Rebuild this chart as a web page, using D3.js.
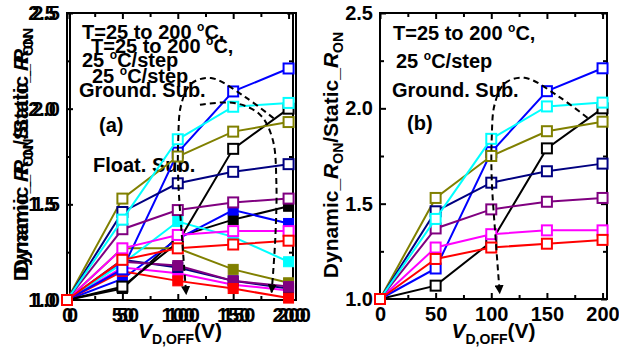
<!DOCTYPE html>
<html>
<head>
<meta charset="utf-8">
<script src="https://d3js.org/d3.v7.min.js"></script>
<style>
  body { margin: 0; background: #fff; }
  svg text { font-family: "Liberation Sans", Arial, sans-serif; font-weight: bold; fill: #000; }
</style>
</head>
<body>
<svg id="chart" width="619" height="354"></svg>
<script>
// x steps of the off-state drain bias (V)
var vOff = [0, 50, 100, 150, 200];
var xTicks = [0, 50, 100, 150, 200];
var xMinor = [25, 75, 125, 175];
var yTicks = [1.0, 1.5, 2.0, 2.5];
var yMinor = [1.25, 1.75, 2.25];

// one colour per temperature step (draw order)
var colors = ["#000000", "#0000ff", "#ff00ff", "#808000", "#000080", "#800080", "#00ffff", "#ff0000"];

// grounded substrate, open squares
var gndBlack   = [1.00, 1.07, 1.30, 1.79, 2.00];
var gndBlue    = [1.00, 1.16, 1.77, 2.09, 2.21];
var gndMagenta = [1.00, 1.27, 1.34, 1.36, 1.36];
var gndOlive   = [1.00, 1.53, 1.75, 1.88, 1.93];
var gndNavy    = [1.00, 1.46, 1.61, 1.67, 1.71];
var gndPurple  = [1.00, 1.37, 1.47, 1.51, 1.53];
var gndCyan    = [1.00, 1.42, 1.84, 2.01, 2.03];
var gndRed     = [1.00, 1.21, 1.27, 1.29, 1.31];

// floating substrate, filled squares
var fltBlack   = [1.00, 1.06, 1.33, 1.42, 1.49];
var fltBlue    = [1.00, 1.11, 1.32, 1.47, 1.40];
var fltMagenta = [1.00, 1.17, 1.14, 1.08, 1.05];
var fltOlive   = [1.00, 1.27, 1.27, 1.16, 1.09];
var fltNavy    = [1.00, 1.21, 1.17, 1.10, 1.06];
var fltPurple  = [1.00, 1.20, 1.18, 1.10, 1.07];
var fltCyan    = [1.00, 1.19, 1.41, 1.33, 1.20];
var fltRed     = [1.00, 1.15, 1.10, 1.06, 1.01];

// dashed guide arrows (data units)
var gndArrow = [[186.5, 1.95], [161, 2.06], [130, 2.16], [112, 2.13], [103, 2.02], [100.4, 1.84], [100.4, 1.63], [104, 1.31], [107.6, 1.03]];
var fltArrow = [[120, 2.02], [151, 2.03], [174, 1.97], [185.6, 1.84], [189, 1.61], [188, 1.32], [184.7, 1.04]];

var groundSeries = [gndBlack, gndBlue, gndMagenta, gndOlive, gndNavy, gndPurple, gndCyan, gndRed];
var floatSeries = [fltBlack, fltBlue, fltMagenta, fltOlive, fltNavy, fltPurple, fltCyan, fltRed];

var svg = d3.select("#chart");
svg.append("rect").attr("width", 619).attr("height", 354).attr("fill", "#fff");

svg.append("defs").append("marker")
  .attr("id", "arrow")
  .attr("viewBox", "0 0 10 10")
  .attr("refX", 9).attr("refY", 5)
  .attr("markerWidth", 9).attr("markerHeight", 9)
  .attr("markerUnits", "userSpaceOnUse")
  .attr("orient", "auto")
  .append("path").attr("d", "M0,0 L10,5 L0,10 z").attr("fill", "#000");

function scalesFor(box) {
  return {
    x: d3.scaleLinear().domain([0, 204]).range([box.left, box.right]),
    y: d3.scaleLinear().domain([1, 2.5]).range([box.bottom, box.top])
  };
}

function styleAxis(g) {
  g.select(".domain").remove();
  g.selectAll("line").attr("stroke", "#000").attr("stroke-width", 2);
  g.selectAll("text").attr("font-size", 20).attr("fill", "#000")
    .attr("font-family", "Liberation Sans, Arial, sans-serif").attr("font-weight", "bold");
}

function drawAxes(g, s, box) {
  g.append("g").attr("transform", "translate(0," + box.bottom + ")")
    .call(d3.axisBottom(s.x).tickValues(xTicks).tickSize(-6).tickPadding(8).tickFormat(d3.format("d"))).call(styleAxis);
  g.append("g").attr("transform", "translate(0," + box.bottom + ")")
    .call(d3.axisBottom(s.x).tickValues(xMinor).tickSize(-4).tickFormat("")).call(styleAxis);
  g.append("g").attr("transform", "translate(0," + box.top + ")")
    .call(d3.axisTop(s.x).tickValues(xTicks).tickSize(-6).tickFormat("")).call(styleAxis);
  g.append("g").attr("transform", "translate(0," + box.top + ")")
    .call(d3.axisTop(s.x).tickValues(xMinor).tickSize(-4).tickFormat("")).call(styleAxis);
  g.append("g").attr("transform", "translate(" + box.left + ",0)")
    .call(d3.axisLeft(s.y).tickValues(yTicks).tickSize(-6).tickPadding(7).tickFormat(d3.format(".1f"))).call(styleAxis);
  g.append("g").attr("transform", "translate(" + box.left + ",0)")
    .call(d3.axisLeft(s.y).tickValues(yMinor).tickSize(-4).tickFormat("")).call(styleAxis);
  g.append("g").attr("transform", "translate(" + box.right + ",0)")
    .call(d3.axisRight(s.y).tickValues(yTicks).tickSize(-6).tickFormat("")).call(styleAxis);
  g.append("g").attr("transform", "translate(" + box.right + ",0)")
    .call(d3.axisRight(s.y).tickValues(yMinor).tickSize(-4).tickFormat("")).call(styleAxis);
}

function drawFrame(g, box, dx) {
  g.append("rect")
    .attr("x", box.left + dx).attr("y", box.top)
    .attr("width", box.right - box.left).attr("height", box.bottom - box.top)
    .attr("fill", "none").attr("stroke", "#000").attr("stroke-width", 2);
}

function drawSeries(g, s, values, color, filled) {
  var pts = values.map(function(v, i) { return [vOff[i], v]; });
  var line = d3.line().x(function(d) { return s.x(d[0]); }).y(function(d) { return s.y(d[1]); });
  g.append("path").datum(pts).attr("d", line)
    .attr("fill", "none").attr("stroke", color).attr("stroke-width", 2);
  g.selectAll(null).data(pts).enter().append("rect")
    .attr("x", function(d) { return s.x(d[0]) - 5; })
    .attr("y", function(d) { return s.y(d[1]) - 5; })
    .attr("width", 10).attr("height", 10)
    .attr("fill", filled ? color : "#fff")
    .attr("stroke", color).attr("stroke-width", filled ? 1 : 2);
}

function drawArrow(g, s, pts) {
  var line = d3.line().curve(d3.curveCatmullRom)
    .x(function(d) { return s.x(d[0]); }).y(function(d) { return s.y(d[1]); });
  g.append("path").datum(pts).attr("d", line)
    .attr("fill", "none").attr("stroke", "#000").attr("stroke-width", 2)
    .attr("stroke-dasharray", "6,4").attr("marker-end", "url(#arrow)");
}

function tempText(g, x, y) {
  var t = g.append("text").attr("x", x).attr("y", y).attr("font-size", 20);
  t.append("tspan").text("T=25 to 200 ");
  t.append("tspan").attr("font-size", 12).attr("dy", -8).text("o");
  t.append("tspan").attr("dy", 8).text("C,");
}

function stepText(g, x, y) {
  var t = g.append("text").attr("x", x).attr("y", y).attr("font-size", 20);
  t.append("tspan").text("25 ");
  t.append("tspan").attr("font-size", 12).attr("dy", -8).text("o");
  t.append("tspan").attr("dy", 8).text("C/step");
}

function plainText(g, x, y, str) {
  g.append("text").attr("x", x).attr("y", y).attr("font-size", 20).text(str);
}

function yTitle(g, x, y) {
  var t = g.append("text").attr("transform", "translate(" + x + "," + y + ") rotate(-90)")
    .attr("text-anchor", "middle").attr("font-size", 21);
  t.append("tspan").text("Dynamic_");
  t.append("tspan").attr("font-style", "italic").text("R");
  t.append("tspan").attr("font-size", 14).attr("dy", 5).text("ON");
  t.append("tspan").attr("dy", -5).text("/Static_");
  t.append("tspan").attr("font-style", "italic").text("R");
  t.append("tspan").attr("font-size", 14).attr("dy", 5).text("ON");
}

function xTitle(g, x, y) {
  var t = g.append("text").attr("x", x).attr("y", y).attr("text-anchor", "middle").attr("font-size", 21);
  t.append("tspan").attr("font-style", "italic").text("V");
  t.append("tspan").attr("font-size", 14).attr("dy", 6).text("D,OFF");
  t.append("tspan").attr("dy", -6).text("(V)");
}

// ---------- panel (a): grounded + floating overlay ----------
var boxA = { left: 67, right: 293, top: 13, bottom: 300 };
var sA = scalesFor(boxA);
var gA = svg.append("g");

// ghost labels of the overlaid floating-substrate plot
gA.append("g").attr("transform", "translate(" + (boxA.left - 4) + ",0)")
  .call(d3.axisLeft(sA.y).tickValues(yTicks).tickSize(0).tickPadding(7).tickFormat(d3.format(".1f"))).call(styleAxis);
gA.append("g").attr("transform", "translate(5," + boxA.bottom + ")")
  .call(d3.axisBottom(sA.x).tickValues(xTicks).tickSize(0).tickPadding(8).tickFormat(d3.format("d"))).call(styleAxis);
yTitle(gA, 28, 151);
drawFrame(gA, boxA, 3);

drawAxes(gA, sA, boxA);
drawFrame(gA, boxA, 0);
yTitle(gA, 28, 158);
xTitle(gA, (boxA.left + boxA.right) / 2, 338);

tempText(gA, 82, 39);
tempText(gA, 91, 53);
stepText(gA, 82, 67);
stepText(gA, 92, 83);
plainText(gA, 79, 97, "Ground. Sub.");
plainText(gA, 99, 132, "(a)");
plainText(gA, 93, 172, "Float. Sub.");

floatSeries.forEach(function(v, i) { drawSeries(gA, sA, v, colors[i], true); });
groundSeries.forEach(function(v, i) { drawSeries(gA, sA, v, colors[i], false); });
drawArrow(gA, sA, gndArrow);
drawArrow(gA, sA, fltArrow);

// ---------- panel (b): grounded substrate ----------
var boxB = { left: 380, right: 607, top: 13, bottom: 299 };
var sB = scalesFor(boxB);
var gB = svg.append("g");

drawAxes(gB, sB, boxB);
drawFrame(gB, boxB, 0);
yTitle(gB, 338, 155);
xTitle(gB, (boxB.left + boxB.right) / 2, 338);

tempText(gB, 393, 40);
stepText(gB, 396, 68);
plainText(gB, 392, 97, "Ground. Sub.");
plainText(gB, 407, 130, "(b)");

groundSeries.forEach(function(v, i) { drawSeries(gB, sB, v, colors[i], false); });
drawArrow(gB, sB, gndArrow);
</script>
</body>
</html>
